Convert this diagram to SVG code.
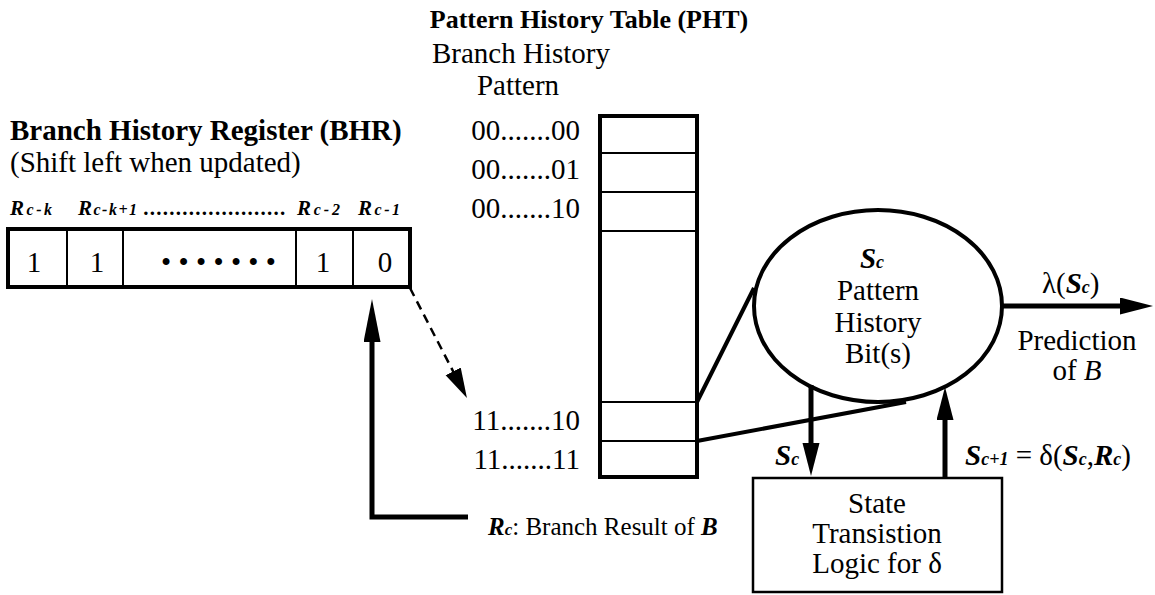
<svg xmlns="http://www.w3.org/2000/svg" width="1155" height="595" viewBox="0 0 1155 595">
  <style>
    text { font-family: "Liberation Serif", "Times New Roman", serif; fill: #000; }
    .t { font-size: 29px; }
    .title { font-size: 26px; font-weight: bold; }
    .head { font-size: 29px; font-weight: bold; }
    .bi { font-weight: bold; font-style: italic; }
    .sub { font-size: 18px; font-weight: bold; font-style: italic; }
    .small { font-size: 25px; }
    .lab { font-size: 21px; font-weight: bold; font-style: italic; }
    .labsub { font-size: 16px; }
    .frame { fill: #fff; stroke: #000; stroke-width: 4; }
    .div { stroke: #000; stroke-width: 2; fill: none; }
    .wire { stroke: #000; stroke-width: 4; fill: none; }
    .arrow { stroke: #000; stroke-width: 5; fill: none; }
    .dash { stroke: #000; stroke-width: 2.5; fill: none; stroke-dasharray: 9 6; }
  </style>
  <defs>
    <marker id="head" markerUnits="userSpaceOnUse" markerWidth="34" markerHeight="18" refX="6" refY="8.5" orient="auto">
      <path d="M0,0 L33,8.5 L0,17 Z" fill="#000"/>
    </marker>
    <marker id="headLong" markerUnits="userSpaceOnUse" markerWidth="44" markerHeight="18" refX="6" refY="8.5" orient="auto">
      <path d="M0,0 L43,8.5 L0,17 Z" fill="#000"/>
    </marker>
    <marker id="headSmall" markerUnits="userSpaceOnUse" markerWidth="31" markerHeight="18" refX="4" refY="8.5" orient="auto">
      <path d="M0,0 L30,8.5 L0,17 Z" fill="#000"/>
    </marker>
  </defs>

  <!-- Branch History Register -->
  <g id="bhr">
    <text class="head" x="10" y="140">Branch History Register (BHR)</text>
    <text class="t" x="10" y="172">(Shift left when updated)</text>
    <text class="lab" x="10" y="215" textLength="42" lengthAdjust="spacing">R<tspan class="labsub">c-k</tspan></text>
    <text class="lab" x="78" y="215" textLength="59" lengthAdjust="spacing">R<tspan class="labsub">c-k+1</tspan></text>
    <text class="lab" x="144" y="215" textLength="142" lengthAdjust="spacing">......................</text>
    <text class="lab" x="297" y="215" textLength="43" lengthAdjust="spacing">R<tspan class="labsub">c-2</tspan></text>
    <text class="lab" x="358" y="215" textLength="42" lengthAdjust="spacing">R<tspan class="labsub">c-1</tspan></text>
    <rect class="frame" x="8" y="229" width="402" height="58"/>
    <path class="div" d="M67,229 V287 M123,229 V287 M296,229 V287 M353,229 V287"/>
    <text class="t" x="34" y="272" text-anchor="middle">1</text>
    <text class="t" x="97" y="272" text-anchor="middle">1</text>
    <text class="t" x="161" y="272" textLength="115" lengthAdjust="spacing">•••••••</text>
    <text class="t" x="323" y="272" text-anchor="middle">1</text>
    <text class="t" x="385" y="272" text-anchor="middle">0</text>
  </g>

  <!-- Pattern History Table -->
  <g id="pht">
    <text class="title" x="589" y="28" text-anchor="middle">Pattern History Table (PHT)</text>
    <text class="t" x="521" y="63" text-anchor="middle">Branch History</text>
    <text class="t" x="518" y="95" text-anchor="middle">Pattern</text>
    <text class="t" x="580" y="140" text-anchor="end">00.......00</text>
    <text class="t" x="580" y="179" text-anchor="end">00.......01</text>
    <text class="t" x="580" y="218" text-anchor="end">00.......10</text>
    <text class="t" x="580" y="430" text-anchor="end">11.......10</text>
    <text class="t" x="580" y="469" text-anchor="end">11.......11</text>
    <rect class="frame" x="600" y="116" width="97" height="361"/>
    <path class="div" d="M600,153 H697 M600,192 H697 M600,231 H697 M600,402 H697 M600,441 H697"/>
  </g>

  <!-- Pattern history bits -->
  <g id="state">
    <ellipse cx="878" cy="306" rx="124" ry="96" fill="#fff" stroke="#000" stroke-width="4"/>
    <text class="t bi" x="872" y="268" text-anchor="middle">S<tspan class="sub">c</tspan></text>
    <text class="t" x="878" y="300" text-anchor="middle">Pattern</text>
    <text class="t" x="878" y="332" text-anchor="middle">History</text>
    <text class="t" x="878" y="363" text-anchor="middle">Bit(s)</text>
  </g>

  <!-- State transition logic -->
  <g id="logic">
    <rect x="753" y="478" width="249" height="114" fill="#fff" stroke="#000" stroke-width="2.5"/>
    <text class="t" x="877" y="513" text-anchor="middle">State</text>
    <text class="t" x="877" y="543" text-anchor="middle">Transistion</text>
    <text class="t" x="877" y="573" text-anchor="middle">Logic for δ</text>
  </g>

  <!-- Connectors -->
  <g id="connectors">
    <path class="wire" d="M697,402 L754,288"/>
    <path class="wire" d="M697,441 L906,402"/>
    <path class="dash" d="M410,288 L455,375" marker-end="url(#headSmall)"/>
    <path class="arrow" d="M468,517 H372 V336" marker-end="url(#headLong)"/>
    <path class="arrow" d="M811,385 V449" marker-end="url(#head)"/>
    <path class="arrow" d="M945,478 V414" marker-end="url(#head)"/>
    <path class="arrow" d="M1003,306 H1126" marker-end="url(#head)"/>
  </g>

  <!-- Connector labels -->
  <g id="labels">
    <text class="t" x="1042" y="293">λ(<tspan class="bi">S</tspan><tspan class="sub">c</tspan>)</text>
    <text class="t" x="1077" y="350" text-anchor="middle">Prediction</text>
    <text class="t" x="1077" y="380" text-anchor="middle">of <tspan font-style="italic">B</tspan></text>
    <text class="t bi" x="775" y="465">S<tspan class="sub">c</tspan></text>
    <text class="t" x="965" y="465"><tspan class="bi">S</tspan><tspan class="sub">c+1</tspan> = δ(<tspan class="bi">S</tspan><tspan class="sub">c</tspan>,<tspan class="bi">R</tspan><tspan class="sub">c</tspan>)</text>
    <text class="small" x="488" y="535"><tspan class="bi">R</tspan><tspan class="bi" font-size="17px">c</tspan>: Branch Result of <tspan class="bi">B</tspan></text>
  </g>
</svg>
